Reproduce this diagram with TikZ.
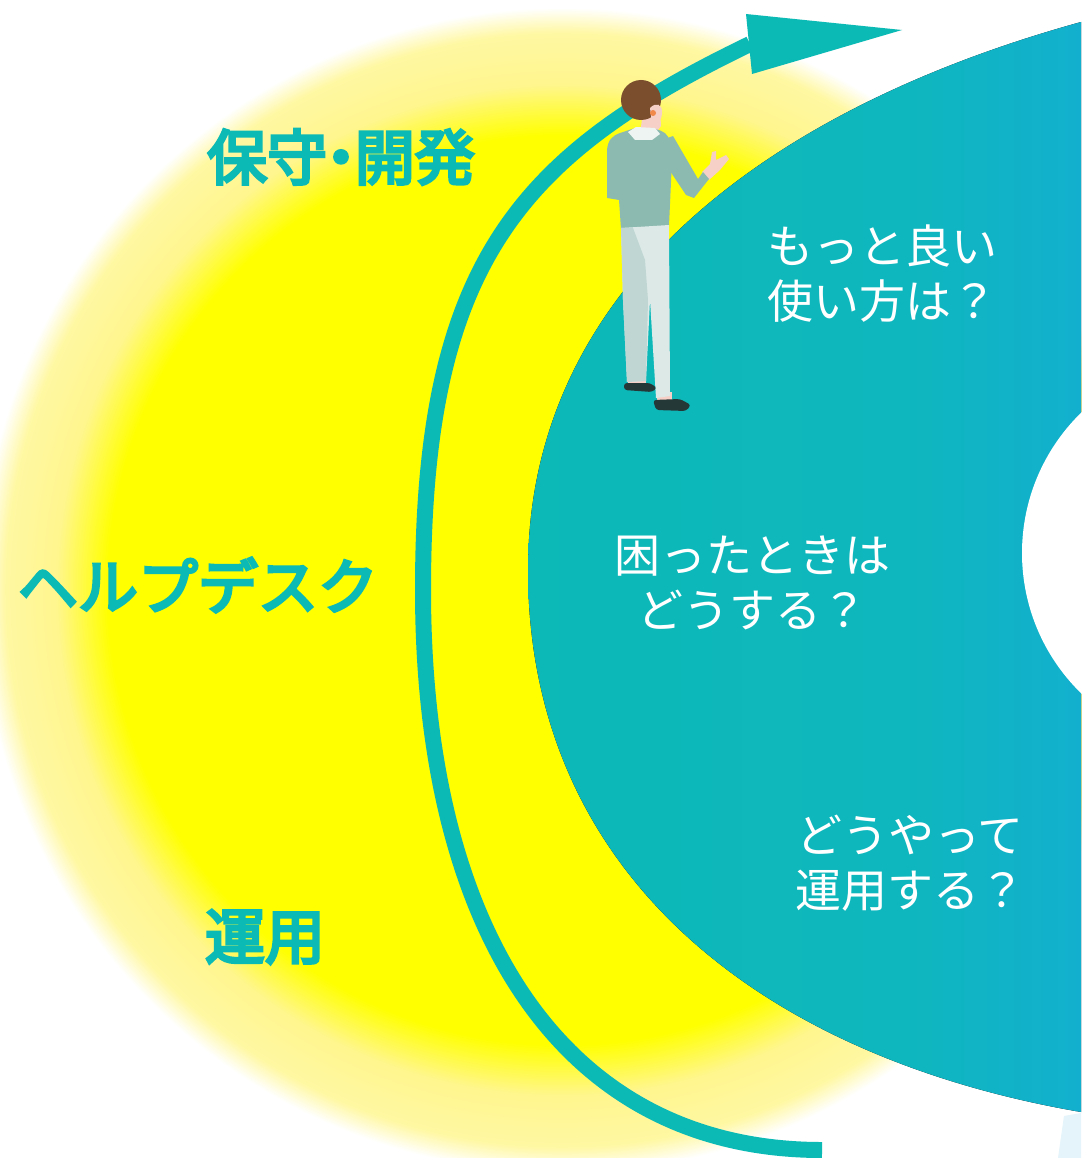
\documentclass[tikz,border=0pt]{standalone}
\usepackage{fontspec}
\newfontfamily\cjk{Noto Sans CJK JP}
\newfontfamily\cjkmedium[FakeBold=5]{Noto Sans CJK JP}
\definecolor{mainteal}{HTML}{0BBAB5}
\definecolor{bandleft}{HTML}{0DB9B7}
\definecolor{bandmid}{HTML}{0EB7BD}
\definecolor{bandright}{HTML}{12B0CE}
\definecolor{glowpale}{HTML}{FFF68E}
\definecolor{hair}{HTML}{7B4F2E}
\definecolor{skin}{HTML}{F6CFC6}
\definecolor{ear}{HTML}{F0894A}
\definecolor{collar}{HTML}{EEF4F2}
\definecolor{sweater}{HTML}{8CBAB0}
\definecolor{pantslight}{HTML}{DCE9E7}
\definecolor{pantsshade}{HTML}{BFD6D3}
\definecolor{shoe}{HTML}{253838}
\definecolor{speckle}{HTML}{E4F4FA}
\pgfdeclareradialshading{glow}{\pgfpoint{0bp}{0bp}}{%
  color(0bp)=(yellow); color(19.6bp)=(yellow); color(21.8bp)=(glowpale);
  color(24.0bp)=(glowpale!82!white); color(25.1bp)=(white); color(50bp)=(white)}
\pgfdeclarehorizontalshading{band}{100bp}{%
  color(0bp)=(bandleft); color(25bp)=(bandleft); color(58bp)=(bandmid);
  color(75bp)=(bandright); color(100bp)=(bandright)}
\tikzset{
  label/.style={font=\cjkmedium\fontsize{60}{60}\selectfont, text=mainteal, inner sep=0pt},
  question/.style={font=\cjk\fontsize{46}{55}\selectfont, text=white, align=center, inner sep=0pt},
  cycleline/.style={draw=mainteal, line width=16pt},
}
\begin{document}
\begin{tikzpicture}[x=1pt, y=-1pt]
\useasboundingbox (0,0) rectangle (1081,1158);
\fill[white] (0,0) rectangle (1081,1158);

% soft yellow glow (square path, so the shading has no hard rim)
\fill[shading=glow] (-18,10) rectangle (1142,1170);

% teal band with a white hole on the right
\fill[shading=band]
  (1081,22) .. controls (763,110) and (528,290) .. (528,570)
  .. controls (528,870) and (756,1056) .. (1081,1112) -- cycle;
\fill[white] (1218,553) circle[radius=196pt];
\fill[speckle] (1064,1116) -- (1081,1113) -- (1081,1158) -- (1058,1158) -- cycle;

% cycle arrow
\coordinate (arrowfoot) at (822,1150);
\coordinate (arrowleft) at (423,590);
\coordinate (arrowneck) at (750,44);
\draw[cycleline] (arrowfoot) .. controls (562,1150) and (423,930) .. (arrowleft)
  .. controls (423,262) and (520,155) .. (arrowneck);
\fill[mainteal] (746,14) -- (902,30) -- (752,74) -- cycle;

% standing person
\fill[skin] (643,112) -- (660,108) -- (661,126) -- (655,134) -- (640,134) -- cycle;
\fill[hair] (641,100) circle[radius=20pt];
\fill[skin] (650,108) .. controls (656,102) and (662,104) .. (662,112)
  .. controls (662,120) and (658,125) .. (652,124) -- cycle;
\fill[ear] (653,113) circle[radius=3pt];
\fill[sweater] (607,150) .. controls (608,140) and (612,136) .. (620,133) -- (635,128) -- (655,129)
  .. controls (664,131) and (668,134) .. (670,142)
  -- (672,160) -- (669,226) -- (621,229) -- (619,200) -- (607,198) -- cycle;
\fill[collar] (628,132) -- (636,127) -- (655,128) -- (660,134) -- (652,140) -- (635,140) -- cycle;
\fill[skin] (702,172) -- (710,164) -- (712,152) -- (716,151) -- (716,160) -- (726,155)
  -- (729,159) -- (720,170) -- (709,180) -- cycle;
\fill[sweater] (662,140) -- (673,136) -- (698,179) -- (703,172) -- (709,179)
  -- (694,198) -- (686,195) -- (668,168) -- cycle;
\fill[skin] (628,376) rectangle (646,386);
\fill[skin] (657,392) rectangle (672,402);
\fill[pantslight] (621,228) -- (669,225) -- (670,396) -- (656,398) -- (650,300)
  -- (646,381) -- (627,382) -- (623,300) -- cycle;
\fill[pantsshade] (621,228) -- (633,228) -- (645,260) -- (648,300) -- (646,381)
  -- (627,382) -- (623,300) -- cycle;
\fill[shoe, rounded corners=3pt] (624,383) -- (650,383) -- (657,388) -- (652,392) -- (624,390) -- cycle;
\fill[shoe, rounded corners=3pt] (653,400) -- (680,399) -- (691,405) -- (686,411) -- (656,410) -- cycle;

% labels on the glow
\node[label] (upkeep) at (341,157) {保守\kern-0.27em・\kern-0.27em開発};
\node[label] (helpdesk) at (198,585) {ヘルプデスク};
\node[label] (operation) at (265,937) {運用};

% questions on the band
\node[question] (better) at (882,274) {もっと良い\\使い方は？};
\node[question] (trouble) at (752,583) {困ったときは\\どうする？};
\node[question] (howto) at (910,863) {どうやって\\運用する？};
\end{tikzpicture}
\end{document}
